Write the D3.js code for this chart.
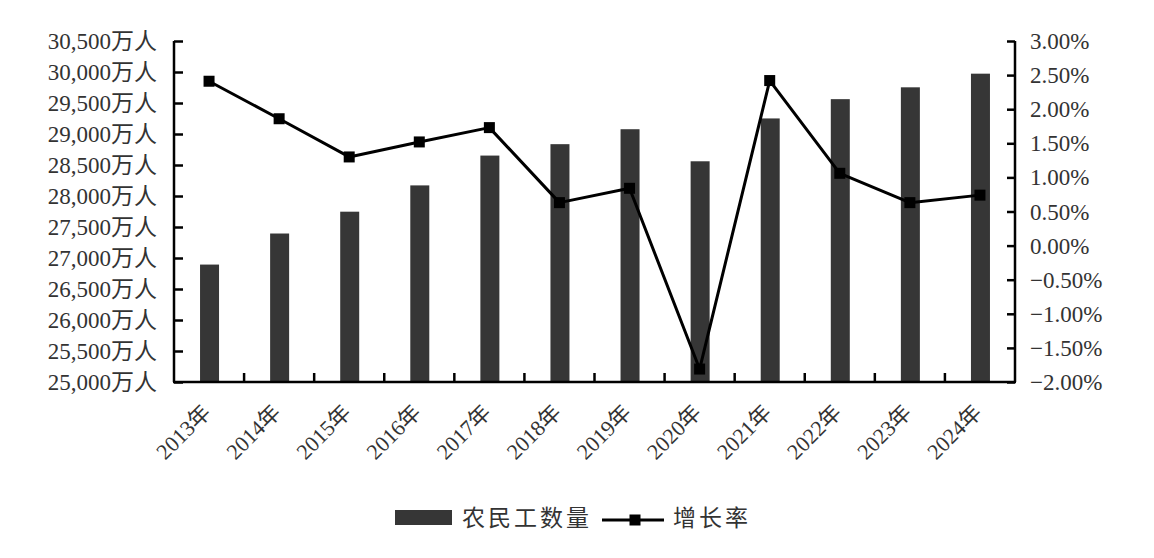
<!DOCTYPE html>
<html><head><meta charset="utf-8">
<script src="https://cdn.jsdelivr.net/npm/d3@7"></script>
<style>
body{margin:0;background:#fff;}
svg text{font-family:"Liberation Serif","Noto Sans CJK SC",serif;fill:#333;}
</style></head>
<body><svg id="c" width="1154" height="558"></svg>
<script>
const years = ["2013年","2014年","2015年","2016年","2017年","2018年","2019年","2020年","2021年","2022年","2023年","2024年"];
const workers = [26894,27395,27747,28171,28652,28836,29077,28560,29251,29562,29753,29973];
const growth = [2.41,1.86,1.30,1.52,1.73,0.63,0.84,-1.81,2.42,1.06,0.63,0.74];
const leftTicks = [25000,25500,26000,26500,27000,27500,28000,28500,29000,29500,30000,30500];
const rightTicks = [-2,-1.5,-1,-0.5,0,0.5,1,1.5,2,2.5,3];
const legendLabels = ["农民工数量","增长率"];

const svg = d3.select("#c");
const L = 174, R = 1015, T = 41, B = 382;
const x = d3.scaleBand().domain(years).range([L, R]);
const yL = d3.scaleLinear().domain([25000, 30500]).range([B, T]);
const yR = d3.scaleLinear().domain([-2, 3]).range([B, T]);
const fmtL = d3.format(",");
const barW = 19;

// bars
svg.append("g").selectAll("rect").data(workers).join("rect")
  .attr("x", (d,i) => x(years[i]) + x.bandwidth()/2 - barW/2 + 0.5)
  .attr("y", d => yL(d))
  .attr("width", barW)
  .attr("height", d => B - yL(d))
  .attr("fill", "#363636");

// left axis
const gL = svg.append("g").attr("transform", `translate(${L},0)`)
  .call(d3.axisRight(yL).tickValues(leftTicks).tickSize(9).tickFormat(""));
gL.select(".domain").attr("stroke","#000").attr("stroke-width",2.5).attr("d", `M0,${T}V${B}`);
gL.selectAll(".tick line").attr("stroke","#000").attr("stroke-width",2.5);
svg.append("g").selectAll("text").data(leftTicks).join("text")
  .attr("x", 157).attr("y", d => yL(d)).attr("dy","0.35em")
  .attr("text-anchor","end").attr("font-size",23)
  .text(d => fmtL(d) + "万人");

// right axis
const gR = svg.append("g").attr("transform", `translate(${R},0)`)
  .call(d3.axisLeft(yR).tickValues(rightTicks).tickSize(8).tickFormat(""));
gR.select(".domain").attr("stroke","#000").attr("stroke-width",2.5).attr("d", `M0,${T}V${B}`);
gR.selectAll(".tick line").attr("stroke","#000").attr("stroke-width",2.5);
svg.append("g").selectAll("text").data(rightTicks).join("text")
  .attr("x", 1030).attr("y", d => yR(d)).attr("dy","0.35em")
  .attr("text-anchor","start").attr("font-size",23)
  .text(d => d3.format(".2f")(d) + "%");

// bottom axis
const gB = svg.append("g").attr("transform", `translate(0,${B})`)
  .call(d3.axisBottom(x).tickSize(0).tickFormat(""));
gB.select(".domain").attr("stroke","#000").attr("stroke-width",2.5).attr("d", `M${L-1},0H${R+1}`);
svg.append("g").selectAll("line").data(years.slice(1)).join("line")
  .attr("x1", d => x(d)).attr("x2", d => x(d))
  .attr("y1", B).attr("y2", B - 9).attr("stroke","#000").attr("stroke-width",2.5);
svg.append("g").selectAll("text").data(years).join("text")
  .attr("transform", d => `translate(${x(d) + x.bandwidth()/2 + 3},${B + 32}) rotate(-45)`)
  .attr("text-anchor","end").attr("font-size",22)
  .text(d => d);

// line
const line = d3.line().x((d,i) => x(years[i]) + x.bandwidth()/2).y(d => yR(d));
svg.append("path").datum(growth).attr("d", line)
  .attr("fill","none").attr("stroke","#000").attr("stroke-width",3).attr("stroke-linejoin","round");
const ms = 11;
svg.append("g").selectAll("rect").data(growth).join("rect")
  .attr("x", (d,i) => x(years[i]) + x.bandwidth()/2 - ms/2)
  .attr("y", d => yR(d) - ms/2)
  .attr("width", ms).attr("height", ms).attr("fill","#000");

// legend
const lg = svg.append("g");
lg.append("rect").attr("x",395).attr("y",510).attr("width",57).attr("height",15).attr("fill","#363636");
lg.append("text").attr("x",462).attr("y",518).attr("dy","0.35em").attr("font-size",23).attr("letter-spacing","3")
  .text(legendLabels[0]);
lg.append("line").attr("x1",602).attr("x2",664).attr("y1",520).attr("y2",520).attr("stroke","#000").attr("stroke-width",3);
lg.append("rect").attr("x",635-ms/2).attr("y",520-ms/2).attr("width",ms).attr("height",ms).attr("fill","#000");
lg.append("text").attr("x",673).attr("y",518).attr("dy","0.35em").attr("font-size",23).attr("letter-spacing","3")
  .text(legendLabels[1]);
</script></body></html>
